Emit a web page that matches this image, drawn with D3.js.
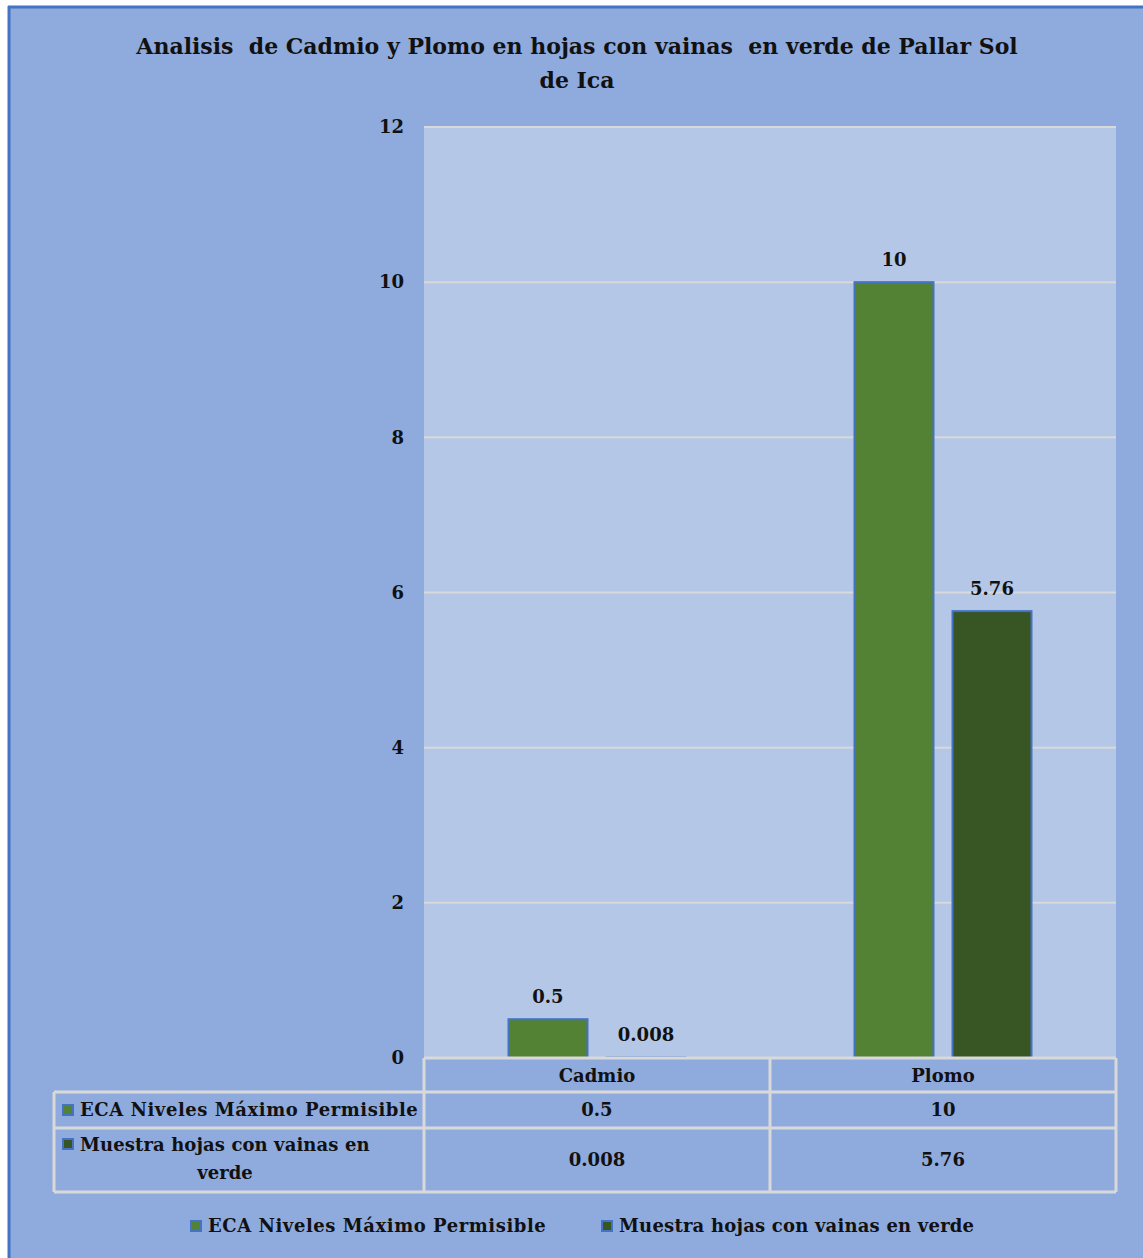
<!DOCTYPE html>
<html>
<head>
<meta charset="utf-8">
<script src="https://cdn.jsdelivr.net/npm/d3@7"></script>
<style>
  body { margin: 0; background: #fff; }
</style>
</head>
<body>
<div id="chart"></div>
<script>
// chart data
var categories = ["Cadmio", "Plomo"];
var seriesNames = ["ECA Niveles Máximo Permisible", "Muestra hojas con vainas en verde"];
var ecaValues = [0.5, 10];
var muestraValues = [0.008, 5.76];
var ecaLabels = ["0.5", "10"];
var muestraLabels = ["0.008", "5.76"];
var yTicks = [0, 2, 4, 6, 8, 10, 12];

var W = 1143, H = 1258;
var plot = {left: 424, right: 1116, top: 127, bottom: 1058};
var colors = ["#548235", "#375623"];
var FONT = "'DejaVu Serif', serif";
var FS = 18;

var svg = d3.select("#chart").append("svg")
    .attr("width", W)
    .attr("height", H)
    .attr("font-family", FONT)
    .attr("font-weight", "bold")
    .attr("fill", "#111");

// outer frame
svg.append("rect")
    .attr("x", 9).attr("y", 7)
    .attr("width", W - 9).attr("height", H - 7)
    .attr("fill", "#8faadc");
svg.append("line").attr("x1", 9).attr("x2", 9).attr("y1", 6).attr("y2", H)
    .attr("stroke", "#4472c4").attr("stroke-width", 3);
svg.append("line").attr("x1", 8).attr("x2", W).attr("y1", 7).attr("y2", 7)
    .attr("stroke", "#4472c4").attr("stroke-width", 3);

// title
var title = svg.append("text")
    .attr("text-anchor", "middle")
    .attr("font-size", 22)
    .attr("xml:space", "preserve");
title.append("tspan").attr("x", 577).attr("y", 54)
    .text("Analisis  de Cadmio y Plomo en hojas con vainas  en verde de Pallar Sol");
title.append("tspan").attr("x", 577).attr("y", 88).text("de Ica");

var x = d3.scaleBand().domain(categories).range([plot.left, plot.right]);
var y = d3.scaleLinear().domain([0, 12]).range([plot.bottom, plot.top]);

// plot area
svg.append("rect")
    .attr("x", plot.left).attr("y", plot.top)
    .attr("width", plot.right - plot.left).attr("height", plot.bottom - plot.top)
    .attr("fill", "#b4c7e7");

svg.append("g").selectAll("line")
  .data(yTicks.filter(function(d) { return d > 0; }))
  .enter().append("line")
    .attr("x1", plot.left).attr("x2", plot.right)
    .attr("y1", function(d) { return y(d); })
    .attr("y2", function(d) { return y(d); })
    .attr("stroke", "#d9d9d9").attr("stroke-width", 2);

var yAxis = svg.append("g")
    .attr("transform", "translate(" + plot.left + ",0)")
    .call(d3.axisLeft(y).tickValues(yTicks).tickSize(0).tickPadding(20).tickFormat(d3.format("d")));
yAxis.attr("font-family", FONT).attr("font-size", FS);
yAxis.select(".domain").remove();
yAxis.selectAll("text").attr("fill", "#111");

// bars
var barW = 79, offset = 49;
var seriesData = [ecaValues, muestraValues];
var seriesLabels = [ecaLabels, muestraLabels];

seriesData.forEach(function(vals, si) {
  var g = svg.append("g");
  var cx = function(i) { return x(categories[i]) + x.bandwidth() / 2 + (si === 0 ? -offset : offset); };
  g.selectAll("rect")
    .data(vals)
    .enter().append("rect")
      .attr("x", function(d, i) { return cx(i) - barW / 2; })
      .attr("y", function(d) { return y(d); })
      .attr("width", barW)
      .attr("height", function(d) { return y(0) - y(d); })
      .attr("fill", colors[si])
      .attr("stroke", "#4472c4")
      .attr("stroke-width", 2);
  g.selectAll("text")
    .data(vals)
    .enter().append("text")
      .attr("x", function(d, i) { return cx(i); })
      .attr("y", function(d) { return y(d) - 16; })
      .attr("text-anchor", "middle")
      .attr("font-size", FS)
      .text(function(d, i) { return seriesLabels[si][i]; });
});

// data table under the axis
var tbl = {left: 54, rows: [1058, 1092, 1128, 1192]};
var tg = svg.append("g");
var gridStroke = "#d9d9d9";

// horizontal rules
tg.append("line").attr("x1", plot.left).attr("x2", plot.right)
    .attr("y1", tbl.rows[0]).attr("y2", tbl.rows[0])
    .attr("stroke", gridStroke).attr("stroke-width", 3);
[1, 2, 3].forEach(function(r) {
  tg.append("line").attr("x1", tbl.left).attr("x2", plot.right)
    .attr("y1", tbl.rows[r]).attr("y2", tbl.rows[r])
    .attr("stroke", gridStroke).attr("stroke-width", 3);
});
// vertical rules
tg.append("line").attr("x1", tbl.left).attr("x2", tbl.left)
    .attr("y1", tbl.rows[1]).attr("y2", tbl.rows[3])
    .attr("stroke", gridStroke).attr("stroke-width", 3);
[plot.left, x("Plomo"), plot.right].forEach(function(vx) {
  tg.append("line").attr("x1", vx).attr("x2", vx)
    .attr("y1", tbl.rows[0]).attr("y2", tbl.rows[3])
    .attr("stroke", gridStroke).attr("stroke-width", 3);
});

// category header
tg.selectAll(".cat")
  .data(categories)
  .enter().append("text")
    .attr("x", function(d) { return x(d) + x.bandwidth() / 2; })
    .attr("y", 1082)
    .attr("text-anchor", "middle")
    .attr("font-size", FS)
    .text(function(d) { return d; });

// value cells
var rowY = [1116, 1166];
seriesLabels.forEach(function(labels, si) {
  tg.selectAll(".v" + si)
    .data(labels)
    .enter().append("text")
      .attr("x", function(d, i) { return x(categories[i]) + x.bandwidth() / 2; })
      .attr("y", rowY[si])
      .attr("text-anchor", "middle")
      .attr("font-size", FS)
      .text(function(d) { return d; });
});

function swatch(g, sx, sy, color) {
  g.append("rect")
    .attr("x", sx).attr("y", sy)
    .attr("width", 10).attr("height", 10)
    .attr("fill", color)
    .attr("stroke", "#4472c4").attr("stroke-width", 2);
}

// row headers
swatch(tg, 63, 1105, colors[0]);
tg.append("text").attr("x", 80).attr("y", 1116)
    .attr("font-size", FS).attr("letter-spacing", 0.55)
    .text(seriesNames[0]);
swatch(tg, 63, 1139, colors[1]);
tg.append("text").attr("x", 80).attr("y", 1151)
    .attr("font-size", FS).attr("letter-spacing", 0.1)
    .text("Muestra hojas con vainas en");
tg.append("text").attr("x", 225).attr("y", 1179)
    .attr("text-anchor", "middle")
    .attr("font-size", FS)
    .text("verde");

// legend
var legendX = [191, 602];
var legendSpacing = [0.55, 0.2];
var lg = svg.append("g");
seriesNames.forEach(function(name, i) {
  swatch(lg, legendX[i], 1221, colors[i]);
  lg.append("text")
    .attr("x", legendX[i] + 17).attr("y", 1232)
    .attr("font-size", FS)
    .attr("letter-spacing", legendSpacing[i])
    .text(name);
});
</script>
</body>
</html>
